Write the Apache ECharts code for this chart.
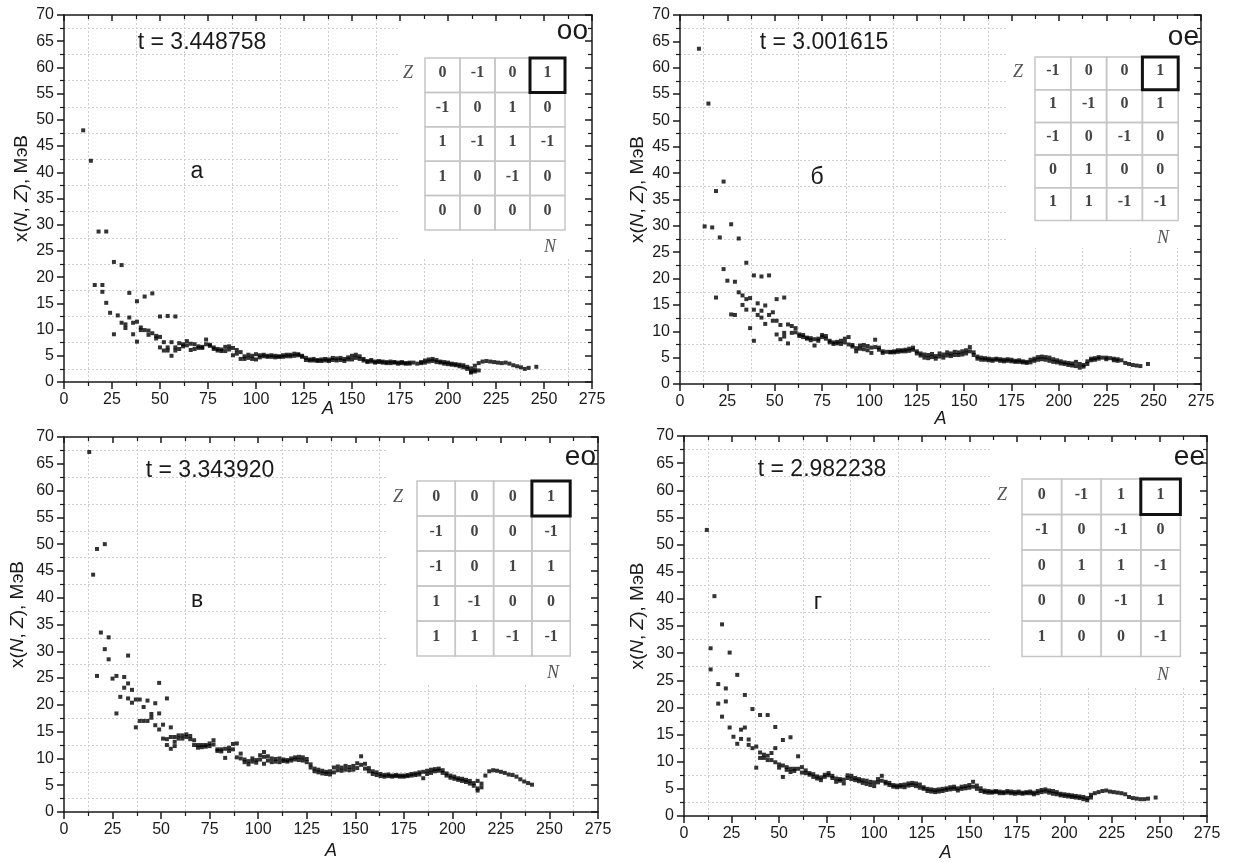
<!DOCTYPE html>
<html>
<head>
<meta charset="utf-8">
<script src="https://cdn.jsdelivr.net/npm/echarts@6/dist/echarts.min.js"></script>
<style>
  html, body { margin: 0; padding: 0; background: #fff; }
  #chart { width: 1237px; height: 863px; }
</style>
</head>
<body>
<div id="chart"></div>
<script>
// axis ranges
const xMax = 275, xStep = 25;
const yMax = 70, yStep = 5;

// texts
const tLabels = ['t = 3.448758', 't = 3.001615', 't = 3.343920', 't = 2.982238'];
const panelLetters = ['а', 'б', 'в', 'г'];
const parityTags = ['oo', 'oe', 'eo', 'ee'];

// inset tables (rows top to bottom, Z row first)
const tableA = [[0, -1, 0, 1], [-1, 0, 1, 0], [1, -1, 1, -1], [1, 0, -1, 0], [0, 0, 0, 0]];
const tableB = [[-1, 0, 0, 1], [1, -1, 0, 1], [-1, 0, -1, 0], [0, 1, 0, 0], [1, 1, -1, -1]];
const tableV = [[0, 0, 0, 1], [-1, 0, 0, -1], [-1, 0, 1, 1], [1, -1, 0, 0], [1, 1, -1, -1]];
const tableG = [[0, -1, 1, 1], [-1, 0, -1, 0], [0, 1, 1, -1], [0, 0, -1, 1], [1, 0, 0, -1]];

// data rows: [A, x(N,Z) values...]
const chiA = [[10,48.0],[14,42.2],[16,18.5],[18,28.7],[20,18.5,17.2],[22,28.7,15.1],[24,13.2],[26,22.9,9.1],[28,12.7],[30,22.3,11.3],[32,11.0,10.3],[34,17.0,12.3],[36,11.3,9.1],[38,15.4,11.5,7.7],[40,10.4,9.9],[42,16.3,9.9],[44,9.8,9.0],[46,16.9,9.3],[48,8.8,8.3],[50,12.5,8.6,6.6],[52,7.6,6.0],[54,12.6,6.6,6.0],[56,7.6,5.0],[58,12.5,6.6,6.0],[60,7.4,6.3],[62,7.2,6.8],[64,7.8,7.0],[66,7.3,6.1],[68,7.2,6.3],[70,6.8,6.5],[72,6.7,6.5],[74,8.1,7.2],[76,7.1,6.9],[78,6.6,6.3],[80,6.3,6.0],[82,6.2,5.9],[84,6.7,5.9],[86,6.8,6.2],[88,6.5,5.1],[90,6.1,5.4],[92,5.7,4.4],[94,4.9,4.4],[96,5.2,4.6],[98,5.0,4.4],[100,5.3,4.3],[102,5.1,4.7],[104,5.2,4.9],[106,5.0,4.8],[108,5.1,4.8],[110,5.0,4.7],[112,4.9,4.8],[114,5.1,4.8],[116,5.2,4.9],[118,5.2,4.9],[120,5.4,5.0],[122,5.3,5.1],[124,5.0,4.8],[126,4.6,4.2],[128,4.3,4.1],[130,4.4,4.1],[132,4.2,4.0],[134,4.3,4.0],[136,4.4,4.1],[138,4.3,4.0],[140,4.6,4.2],[142,4.5,4.1],[144,4.6,4.2],[146,4.4,4.0],[148,4.7,4.3],[150,5.0,4.3],[152,5.2,4.6],[154,4.9,4.4],[156,4.4,4.1],[158,4.0,3.8],[160,4.2,3.9],[162,3.9,3.7],[164,4.0,3.8],[166,3.9,3.7],[168,3.8,3.6],[170,3.9,3.6],[172,3.8,3.7],[174,3.7,3.5],[176,3.8,3.6],[178,3.6,3.5],[180,3.7,3.5],[182,3.7],[184,3.5],[186,3.8,3.6],[188,4.1,3.7],[190,4.3,3.9],[192,4.4,4.0],[194,4.2,3.8],[196,3.9,3.7],[198,3.8,3.5],[200,3.7,3.4],[202,3.5,3.3],[204,3.4,3.2],[206,3.3,3.0],[208,3.2,2.8],[210,2.9,2.5],[212,2.6,2.0,1.8],[214,3.1,2.3,2.0],[216,3.6,2.2],[218,3.9],[220,4.0],[222,3.9],[224,3.8],[226,3.7],[228,3.6],[230,3.7],[232,3.5],[234,3.2],[236,3.0],[238,2.8],[240,2.5],[242,2.7],[246,2.9]];

const chiB = [[10,63.6],[13,29.9],[15,53.2],[17,29.7],[19,36.6,16.4],[21,27.8],[23,38.4,21.8],[25,19.6],[27,30.3,13.2],[29,19.4,13.1],[31,27.6,17.4],[33,16.8,15.0],[35,23.0,16.1,14.1],[37,16.3,10.6],[39,20.6,14.1,8.2],[41,15.3,13.1],[43,20.4,13.9,12.6],[45,14.9,11.4],[47,20.6,13.1],[49,13.6,12.0],[51,16.1,12.0,9.4],[53,11.2,8.5],[55,16.4,9.7,9.0],[57,11.3,7.7],[59,11.0,9.7],[61,10.6,9.8],[63,9.4,9.1],[65,9.3,8.9],[67,8.8,8.6],[69,8.7,8.3],[71,8.5,7.3],[73,8.6,8.2],[75,9.3,8.9],[77,9.1,8.6],[79,8.2,7.9],[81,7.9,7.6],[83,8.0,7.7],[85,8.2,7.6],[87,8.6,7.9],[89,8.9,7.5],[91,7.4,7.1],[93,6.8,6.2],[95,7.3,6.7],[97,7.4,6.6],[99,7.2,6.4],[101,6.9,5.9],[103,8.4,7.0],[105,6.9,6.5],[107,6.2,5.9],[109,6.1],[111,6.1,6.0],[113,6.2,6.0],[115,6.4,6.1],[117,6.4,6.2],[119,6.5,6.2],[121,6.7,6.3],[123,6.9,6.5],[125,6.2,5.8],[127,5.8,5.4],[129,5.6,5.0],[131,5.5,4.9],[133,5.7,5.1],[135,5.3,4.8],[137,5.8,5.2],[139,5.6,5.0],[141,6.0,5.4],[143,5.8,5.3],[145,6.1,5.5],[147,6.0,5.5],[149,6.2,5.6],[151,6.4,5.8],[153,7.0,6.2],[155,6.0,5.5],[157,5.2,4.8],[159,5.0,4.6],[161,4.9,4.6],[163,4.8,4.5],[165,4.7,4.4],[167,4.8,4.6],[169,4.7,4.4],[171,4.6,4.3],[173,4.7,4.4],[175,4.6,4.3],[177,4.4,4.2],[179,4.5,4.2],[181,4.3,4.1],[183,4.2,4.0],[185,4.6,4.1],[187,4.8,4.4],[189,5.1,4.6],[191,5.2,4.7],[193,5.1,4.6],[195,5.0,4.4],[197,4.7,4.2],[199,4.5,4.1],[201,4.3,3.9],[203,4.1,3.8],[205,4.0,3.6],[207,3.9,3.5],[209,4.2,3.4],[211,3.8,3.1],[213,3.6,3.3],[215,4.3,3.8],[217,4.8,4.5],[219,4.9,4.6],[221,5.1,4.8],[223,5.0],[225,5.0,4.7],[227,4.9],[229,4.8,4.5],[231,4.7,4.4],[233,4.5],[235,4.0],[237,3.8],[239,3.6],[241,3.5],[243,3.4],[247,3.8]];

const chiV = [[13,67.2],[15,44.3],[17,49.1,25.4],[19,33.5],[21,50.0,30.4],[23,32.6,28.5],[25,24.9],[27,25.4,18.4],[29,21.5],[31,25.2,23.2],[33,29.2,24.0,21.2],[35,22.8,20.4],[37,21.0,15.8],[39,21.0,17.0],[41,19.6,17.0],[43,20.8,17.0],[45,18.3,17.6],[47,20.3,16.2],[49,24.1,18.4,15.4],[51,16.3,13.7],[53,21.2,13.6,12.5],[55,15.8,14.0,11.8],[57,14.0,13.1,12.3],[59,14.3,13.7],[61,14.3,13.7],[63,14.5,14.0],[65,14.2,13.6],[67,13.4,12.5],[69,12.5,12.0],[71,12.5,12.1],[73,12.5,12.2],[75,12.8,12.3],[77,13.4,12.6],[79,11.7,11.4],[81,11.7,11.3],[83,11.8,10.1],[85,12.0,11.4],[87,12.7,11.7],[89,12.8,10.2],[91,10.9,10.0],[93,9.8,9.3],[95,9.5,8.9],[97,10.0,9.4],[99,9.7,9.2],[101,10.6,9.8],[103,11.2,10.3,9.0],[105,10.4,9.6],[107,10.0,9.3],[109,9.9,9.4],[111,10.0,9.3],[113,9.8,9.5],[115,9.7,9.4],[117,10.0,9.6],[119,10.2,9.8],[121,10.3,9.7],[123,10.2,9.6],[125,9.9,9.3],[127,8.9,8.3],[129,8.1,7.6],[131,7.9,7.4],[133,7.7,7.2],[135,7.5,7.1],[137,7.6,7.0],[139,8.3,7.4],[141,8.5,7.8],[143,8.3,7.7],[145,8.6,7.9],[147,8.4,7.8],[149,8.6,7.9],[151,9.1,8.2],[153,10.4,8.8],[155,9.0,8.1],[157,8.2,7.6],[159,7.6,7.1],[161,7.4,6.9],[163,7.1,6.7],[165,6.9,6.6],[167,7.0,6.7],[169,6.8,6.6],[171,6.9,6.7],[173,6.8,6.6],[175,6.8,6.6],[177,6.9,6.7],[179,7.1,6.8],[181,7.2,6.9],[183,7.4,7.0],[185,7.5,6.3],[187,7.7,7.1],[189,7.9,7.3],[191,8.0,7.6],[193,8.1,7.7],[195,7.8,7.3],[197,7.2,6.8],[199,6.8,6.4],[201,6.6,6.2],[203,6.3,6.0],[205,6.2,5.8],[207,6.0,5.6],[209,5.8,5.3],[211,5.4,4.9],[213,5.8,4.4,4.0],[215,5.3,4.6],[217,6.8],[219,7.6],[221,7.8],[223,7.7],[225,7.5],[227,7.3],[229,7.0],[231,6.9],[233,6.6],[235,6.1],[237,5.7],[239,5.4],[241,5.1]];

const chiG = [[12,52.7],[14,30.9,27.0],[16,40.5],[18,24.3,20.7],[20,35.3,18.3],[22,23.5,21.1],[24,30.1,16.3],[26,14.6],[28,26.0,13.3],[30,15.9,14.2],[32,22.3,16.3],[34,14.1,13.1],[36,19.7,12.5],[38,12.8,8.9],[40,18.6,11.7,10.7],[42,11.3,10.7],[44,18.6,11.1,10.3],[46,11.6,10.3],[48,16.4,12.5,9.9],[50,9.5,8.9],[52,14.0,9.3,7.2],[54,9.0,8.5],[56,14.5,8.7,8.1],[58,8.7,8.3],[60,11.0,8.7],[62,9.0,8.0],[64,8.4,7.9],[66,7.9,7.6],[68,7.7,7.2],[70,7.3,6.9],[72,7.1,6.6],[74,7.6,7.2],[76,7.9,7.5],[78,7.4,7.0],[80,6.9,6.3],[82,6.8,6.5],[84,6.7,6.0],[86,7.5,7.0],[88,7.4,6.8],[90,7.0,6.6],[92,6.8,6.4],[94,6.6,6.1],[96,6.5,5.9],[98,6.3,5.7],[100,6.2,5.5],[102,6.8,6.2],[104,7.4,6.5],[106,6.3,6.0],[108,6.1,5.7],[110,5.7,5.4],[112,5.6,5.3],[114,5.7,5.4],[116,5.8,5.3],[118,6.0,5.6],[120,6.1,5.7],[122,6.0,5.5],[124,5.8,5.2],[126,5.3,5.0],[128,5.0,4.6],[130,4.9,4.5],[132,4.8,4.4],[134,4.9,4.5],[136,5.0,4.6],[138,5.1,4.8],[140,5.3,4.9],[142,5.4,5.0],[144,5.1,4.7],[146,5.4,5.0],[148,5.5,5.1],[150,5.7,5.2],[152,6.3,5.4],[154,5.6,5.0],[156,5.1,4.6],[158,4.7,4.4],[160,4.6,4.3],[162,4.5,4.3],[164,4.6,4.4],[166,4.5,4.2],[168,4.4,4.2],[170,4.6,4.3],[172,4.5,4.2],[174,4.4,4.1],[176,4.5,4.2],[178,4.3,4.1],[180,4.4,4.2],[182,4.5,4.2],[184,4.3,4.0],[186,4.6,4.2],[188,4.8,4.4],[190,4.9,4.5],[192,4.7,4.3],[194,4.6,4.1],[196,4.4,4.0],[198,4.1,3.8],[200,4.0,3.7],[202,3.9,3.6],[204,3.8,3.5],[206,3.7,3.4],[208,3.6,3.3],[210,3.5,3.1],[212,3.3,2.9],[214,3.9,3.4],[216,4.2],[218,4.4],[220,4.6],[222,4.7],[224,4.5],[226,4.4],[228,4.3],[230,4.2],[232,4.0],[234,3.5],[236,3.3],[238,3.2],[240,3.1],[242,3.1],[244,3.2],[248,3.4]];

const dataSets = [chiA, chiB, chiV, chiG];
const tables = [tableA, tableB, tableV, tableG];

// panel layout (pixels)
const panels = [
  { grid: { left: 64, top: 15, width: 528, height: 367 }, xGap: 18, yGap: 33,
    t: [202, 43], letter: [197, 172], tag: [588, 31], mask: [398, 16, 193, 243],
    tbl: { x: 425, y: 58, cw: 35, ch: 34.4 }, Z: [408, 73], N: [550, 247] },
  { grid: { left: 680, top: 15, width: 521, height: 369 }, xGap: 26, yGap: 33,
    t: [824, 43], letter: [817, 178], tag: [1199, 37], mask: [1006, 16, 194, 232],
    tbl: { x: 1035, y: 57, cw: 35.8, ch: 32.7 }, Z: [1018, 72], N: [1163, 238] },
  { grid: { left: 64, top: 437, width: 534, height: 375 }, xGap: 30, yGap: 37,
    t: [210, 471], letter: [197, 601], tag: [596, 457], mask: [386, 438, 211, 245],
    tbl: { x: 417, y: 481, cw: 38.3, ch: 35 }, Z: [398, 497], N: [553, 673] },
  { grid: { left: 684, top: 436, width: 523, height: 383 }, xGap: 28, yGap: 37,
    t: [822, 470], letter: [818, 603], tag: [1205, 457], mask: [990, 437, 216, 250],
    tbl: { x: 1022, y: 479, cw: 39.6, ch: 35.5 }, Z: [1002, 495], N: [1163, 675] }
];

const font = 'Liberation Sans, Arial, sans-serif';
const serif = 'Liberation Serif, DejaVu Serif, serif';
const ink = '#1a1a1a';

const toPairs = rows => rows.flatMap(([a, ...vs]) => vs.map(v => [a, v]));

const lineStyle = { color: ink, width: 1.5 };
const gridDots = { show: true, lineStyle: { color: '#cfcfcf', type: [2, 2], width: 1 } };

const xAxes = [], yAxes = [], graphics = [];

panels.forEach((p, i) => {
  xAxes.push({
    type: 'value', gridIndex: i, position: 'bottom', min: 0, max: xMax, interval: xStep,
    name: 'A', nameLocation: 'middle', nameGap: p.xGap, nameMoveOverlap: false,
    nameTextStyle: { fontStyle: 'italic', fontSize: 18, fontFamily: font, color: ink },
    axisLine: { show: true, onZero: false, lineStyle },
    axisTick: { show: true, length: 7, lineStyle },
    minorTick: { show: true, splitNumber: 2, length: 4, lineStyle: { color: ink, width: 1.2 } },
    axisLabel: { fontSize: 16, color: ink, fontFamily: font, margin: 10 },
    splitLine: { show: false },
    minorSplitLine: gridDots
  });
  xAxes.push({
    type: 'value', gridIndex: i, position: 'top', min: 0, max: xMax, interval: xStep, z: 10,
    axisLine: { show: true, onZero: false, lineStyle },
    axisTick: { show: true, inside: true, length: 6, lineStyle },
    minorTick: { show: true, splitNumber: 2, length: 4, lineStyle: { color: ink, width: 1.2 } },
    axisLabel: { show: false }, splitLine: { show: false }
  });
  yAxes.push({
    type: 'value', gridIndex: i, position: 'left', min: 0, max: yMax, interval: yStep,
    name: 'x({i|N}, {i|Z}), МэВ', nameLocation: 'middle', nameGap: p.yGap, nameRotate: 90,
    nameMoveOverlap: false,
    nameTextStyle: {
      fontSize: 19, fontFamily: font, color: ink, padding: [0, 0, 0, 20],
      rich: { i: { fontStyle: 'italic', fontSize: 19, fontFamily: font, color: ink } }
    },
    axisLine: { show: true, onZero: false, lineStyle },
    axisTick: { show: true, length: 7, lineStyle },
    minorTick: { show: true, splitNumber: 2, length: 4, lineStyle: { color: ink, width: 1.2 } },
    axisLabel: { fontSize: 16, color: ink, fontFamily: font, margin: 10 },
    splitLine: { show: false },
    minorSplitLine: gridDots
  });
  yAxes.push({
    type: 'value', gridIndex: i, position: 'right', min: 0, max: yMax, interval: yStep, z: 10,
    axisLine: { show: true, onZero: false, lineStyle },
    axisTick: { show: true, inside: true, length: 7, lineStyle },
    minorTick: { show: true, splitNumber: 2, length: 4, lineStyle: { color: ink, width: 1.2 } },
    axisLabel: { show: false }, splitLine: { show: false }
  });

  // white backing of the inset picture
  const m = p.mask;
  graphics.push({ type: 'rect', silent: true, z: 1,
    shape: { x: m[0], y: m[1], width: m[2], height: m[3] }, style: { fill: '#fff' } });

  const txt = (s, pos, size, extra) => ({
    type: 'text', silent: true, z: 5, x: pos[0], y: pos[1],
    style: Object.assign({ text: s, fill: ink, font: size + 'px ' + font, textAlign: 'center', textVerticalAlign: 'middle' }, extra || {})
  });
  graphics.push(txt(tLabels[i], p.t, 23));
  graphics.push(txt(panelLetters[i], p.letter, 23));
  graphics.push(txt(parityTags[i], p.tag, 28, { textAlign: 'right' }));

  // inset table
  const t = p.tbl;
  tables[i].forEach((row, r) => row.forEach((v, c) => {
    graphics.push({ type: 'rect', silent: true, z: 2,
      shape: { x: t.x + c * t.cw, y: t.y + r * t.ch, width: t.cw, height: t.ch },
      style: { fill: 'none', stroke: '#c6c6c6', lineWidth: 1.5 } });
    graphics.push({ type: 'text', silent: true, z: 4,
      x: t.x + (c + 0.5) * t.cw, y: t.y + (r + 0.5) * t.ch - 2,
      style: { text: String(v), fill: '#444', font: 'bold 16px ' + serif, textAlign: 'center', textVerticalAlign: 'middle' } });
  }));
  graphics.push({ type: 'rect', silent: true, z: 4,
    shape: { x: t.x + 3 * t.cw, y: t.y, width: t.cw, height: t.ch },
    style: { fill: 'none', stroke: '#111', lineWidth: 3 } });
  graphics.push(txt('Z', p.Z, 18, { fill: '#555', font: 'italic 18px ' + serif }));
  graphics.push(txt('N', p.N, 18, { fill: '#555', font: 'italic 18px ' + serif }));
});

const chart = echarts.init(document.getElementById('chart'));
chart.setOption({
  animation: false,
  backgroundColor: '#fff',
  grid: panels.map(p => Object.assign({ containLabel: false }, p.grid)),
  xAxis: xAxes,
  yAxis: yAxes,
  series: dataSets.map((rows, i) => ({
    type: 'scatter',
    xAxisIndex: i * 2,
    yAxisIndex: i * 2,
    data: toPairs(rows),
    symbol: 'rect',
    symbolSize: 4,
    itemStyle: { color: '#000' },
    silent: true,
    z: 3
  })),
  graphic: graphics
});
</script>
</body>
</html>
